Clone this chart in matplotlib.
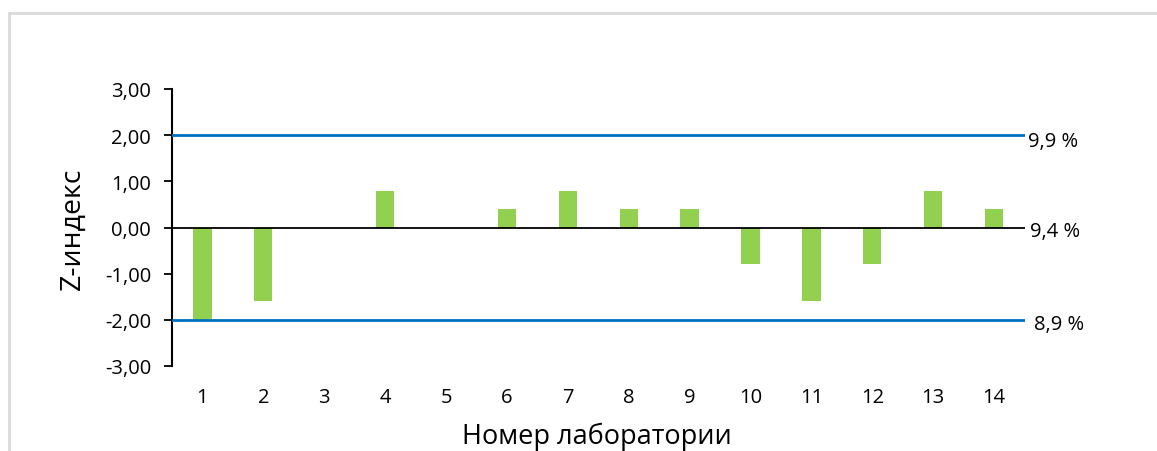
import matplotlib.pyplot as plt
from matplotlib.patches import Rectangle

labs = list(range(1, 15))
z_scores = [-2.0, -1.6, 0.0, 0.8, 0.0, 0.4, 0.8, 0.4, 0.4, -0.8, -1.6, -0.8, 0.8, 0.4]
limit_vals = [2.0, 0.0, -2.0]
limit_labels = ["9,9 %", "9,4 %", "8,9 %"]
limit_offsets = [(4, -6), (5, -4), (9, -4)]
yticks = [-3, -2, -1, 0, 1, 2, 3]

plt.rcParams['font.family'] = ['Open Sans', 'DejaVu Sans']

fig = plt.figure(figsize=(11.57, 4.52), dpi=100)
W, H = 1157, 452

# light gray frame around the chart area
fig.patches.append(Rectangle((9 / W, -0.1), 1.2, 1 - 14 / H + 0.1, transform=fig.transFigure,
                             fill=False, edgecolor='#d9d9d9', linewidth=2, zorder=0))

ax = fig.add_axes([172 / W, 1 - 367 / H, (1024.5 - 172) / W, (367 - 90) / H])

ax.bar(labs, z_scores, width=0.3, color='#92D050', zorder=2)

for val, lab, off in zip(limit_vals, limit_labels, limit_offsets):
    if val == 0:
        ax.axhline(val, color='black', linewidth=1.3, zorder=3)
    else:
        ax.axhline(val, color='#0070C0', linewidth=2, zorder=3)
    ax.annotate(lab, xy=(1, val), xycoords=('axes fraction', 'data'),
                xytext=off, textcoords='offset pixels', ha='left', va='center',
                fontsize=14.5, annotation_clip=False)

ax.set_xlim(0.5, 14.5)
ax.set_ylim(-3, 3)
ax.set_xticks(labs)
ax.set_xticklabels([str(i) for i in labs])
ax.set_yticks(yticks)
ax.set_yticklabels([f"{v:.2f}".replace('.', ',') for v in yticks])

for s in ['top', 'right', 'bottom']:
    ax.spines[s].set_visible(False)
ax.spines['left'].set_linewidth(1.5)

ax.tick_params(axis='x', length=0, pad=15, labelsize=14.5)
ax.tick_params(axis='y', direction='out', length=6, width=1.3, pad=9, labelsize=14.5)

fig.text(73 / W, 1 - 229 / H, "Z-индекс", rotation=90, ha='center', va='center', fontsize=20.5)
fig.text(597 / W, 1 - 437 / H, "Номер лаборатории", ha='center', va='center', fontsize=19.5)

fig.savefig('out.png', dpi=100)
